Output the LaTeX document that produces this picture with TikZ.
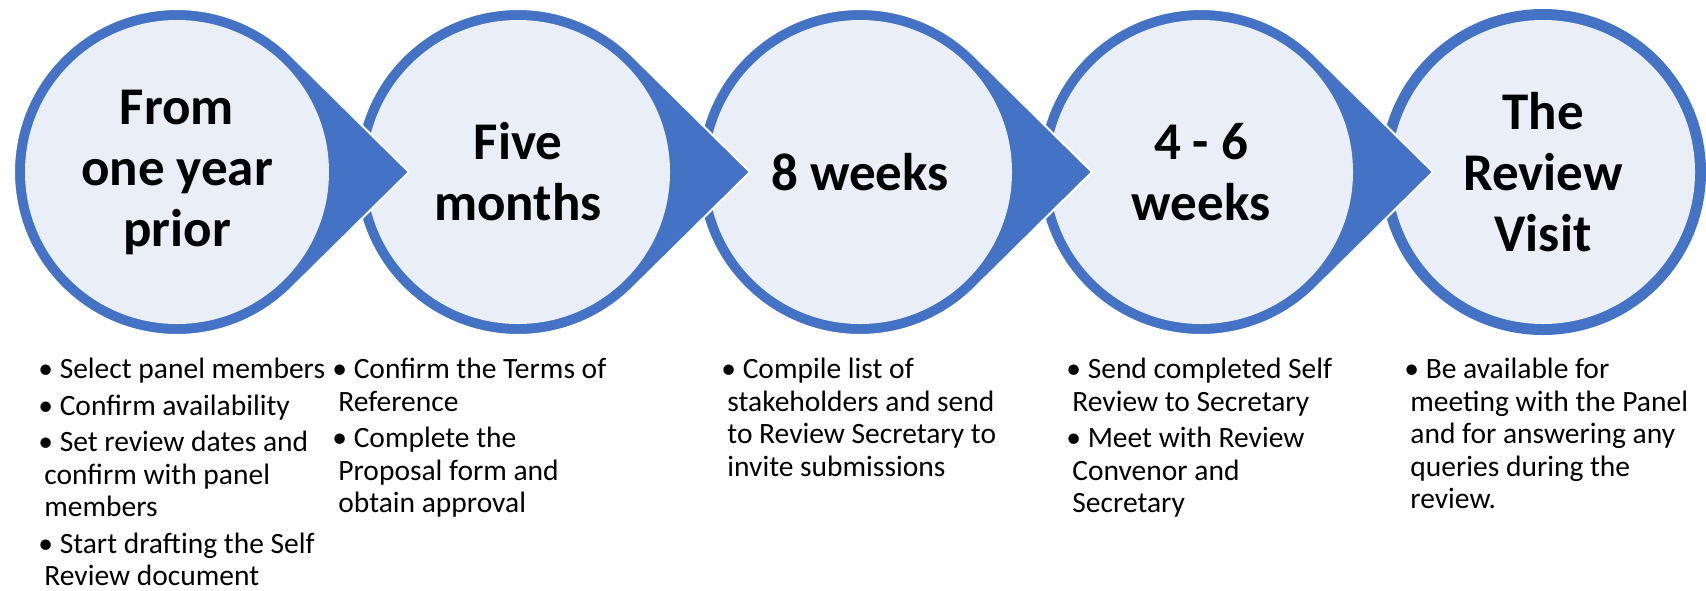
\documentclass[tikz,border=0pt]{standalone}
\usepackage{fontspec}
\setmainfont{Carlito}
\usetikzlibrary{calc}
\definecolor{ringblue}{HTML}{4472C4}
\definecolor{disklight}{HTML}{EAEFF7}
\newcommand{\stagedrop}[1]{\path [fill=ringblue, draw=white, line width=1pt] ($(#1)+(232,0)$) -- ($(#1)+(45.4:163)$) arc [start angle=45.4, end angle=314.6, radius=163] -- cycle;}
\newcommand{\stagedisk}[1]{\fill [disklight] (#1) circle [radius=152];}
\newcommand{\bul}{\hspace*{-3pt}\textbullet\ }

\begin{document}
\begin{tikzpicture}[x=0.5pt, y=-0.5pt,
 heading/.style={font=\bfseries\fontsize{26.5}{30.5}\selectfont, align=center},
 steps/.style={anchor=north west, align=left, inner sep=0pt, font=\fontsize{14.75}{16.25}\selectfont}]
\useasboundingbox (0,0) rectangle (1706,590);

 \coordinate (c1) at (177,172);
 \coordinate (c2) at (518,172);
 \coordinate (c3) at (860,172);
 \coordinate (c4) at (1201,172);
 \coordinate (c5) at (1543,172);

 \fill [ringblue] (c5) circle [radius=163];
 \stagedisk{c5}
 \stagedrop{c4} \stagedisk{c4}
 \stagedrop{c3} \stagedisk{c3}
 \stagedrop{c2} \stagedisk{c2}
 \stagedrop{c1} \stagedisk{c1}

 \node[heading] (h1) at (c1) {From\\one year\\prior};
 \node[heading] (h2) at (c2) {Five\\months};
 \node[heading] (h3) at (c3) {8 weeks};
 \node[heading] (h4) at (c4) {4 - 6\\weeks};
 \node[heading] (h5) at (c5) {The\\Review\\Visit};

 \node[steps] (l1) at (44,358) {\bul Select panel members\\[2pt]\bul Confirm availability\\[2pt]\bul Set review dates and\\confirm with panel\\members\\[2pt]\bul Start drafting the Self\\Review document};
 \node[steps] (l2) at (338,358) {\bul Confirm the Terms of\\Reference\\[2pt]\bul Complete the\\Proposal form and\\obtain approval};
 \node[steps] (l3) at (727,358) {\bul Compile list of\\stakeholders and send\\to Review Secretary to\\invite submissions};
 \node[steps] (l4) at (1072,358) {\bul Send completed Self\\Review to Secretary\\[2pt]\bul Meet with Review\\Convenor and\\Secretary};
 \node[steps] (l5) at (1410,358) {\bul Be available for\\meeting with the Panel\\and for answering any\\queries during the\\review.};
\end{tikzpicture}
\end{document}
